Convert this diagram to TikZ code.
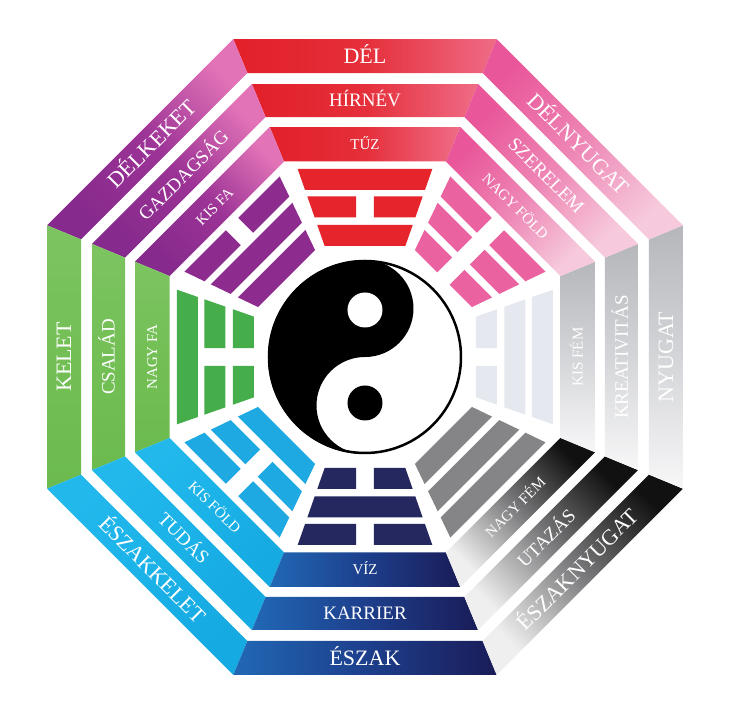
\documentclass[tikz,border=0pt]{standalone}
\usepackage{fontspec}
\setmainfont{Liberation Serif}
\newcommand\bgBand[6]{%
 \pgfmathsetmacro\bgRo{1.0823922*#2}%
 \pgfmathsetmacro\bgRi{1.0823922*#3}%
 \pgfmathsetmacro\bgSa{90+#1}%
 \pgfmathsetmacro\bgTa{#1+67.5}%
 \pgfmathsetmacro\bgTb{#1+112.5}%
 \shade[top color=#4,bottom color=#6,middle color=#5,shading angle=\bgSa]
   (\bgTa:\bgRo) -- (\bgTb:\bgRo) -- (\bgTb:\bgRi) -- (\bgTa:\bgRi) -- cycle;}
\newcommand\bgSector[4]{%
 \bgBand{#1}{318}{284}{#2}{#3}{#4}%
 \bgBand{#1}{273}{240}{#2}{#3}{#4}%
 \bgBand{#1}{230}{195.5}{#2}{#3}{#4}}
\newcommand\bgBar[5]{% rot, a_in, a_out, solid(1)/broken(0), colour
 \pgfmathsetmacro\bgHi{0.35*#2+1.5}%
 \pgfmathsetmacro\bgHo{0.35*#3+1.5}%
 \begin{scope}[rotate=#1]
 \ifnum#4=1
  \fill[#5] (-\bgHo,#3) -- (\bgHo,#3) -- (\bgHi,#2) -- (-\bgHi,#2) -- cycle;
 \else
  \fill[#5] (-\bgHo,#3) -- (-8.8,#3) -- (-8.8,#2) -- (-\bgHi,#2) -- cycle;
  \fill[#5] (8.8,#3) -- (\bgHo,#3) -- (\bgHi,#2) -- (8.8,#2) -- cycle;
 \fi
 \end{scope}}
\newcommand\bgTrigram[5]{% rot, colour, outer, middle, inner
 \bgBar{#1}{167}{188}{#3}{#2}%
 \bgBar{#1}{139.5}{160.5}{#4}{#2}%
 \bgBar{#1}{111}{132}{#5}{#2}}
\definecolor{sA}{HTML}{E2202A}\definecolor{sM}{HTML}{E52F3A}\definecolor{sB}{HTML}{EF6C86}
\definecolor{seA}{HTML}{872A8D}\definecolor{seM}{HTML}{9C3396}\definecolor{seB}{HTML}{E273B7}
\definecolor{eA}{HTML}{6CBB4E}\definecolor{eM}{HTML}{73BF55}\definecolor{eB}{HTML}{7CC461}
\definecolor{neA}{HTML}{15AAE2}\definecolor{neM}{HTML}{1BB2E8}\definecolor{neB}{HTML}{22B8EC}
\definecolor{nA}{HTML}{1A1C58}\definecolor{nM}{HTML}{1D3F8C}\definecolor{nB}{HTML}{2168B5}
\definecolor{nwA}{HTML}{111111}\definecolor{nwM}{HTML}{7A7A7C}\definecolor{nwB}{HTML}{EFEFEF}
\definecolor{wA}{HTML}{B6B7BB}\definecolor{wM}{HTML}{D4D5D8}\definecolor{wB}{HTML}{F7F7F8}
\definecolor{swA}{HTML}{E9579A}\definecolor{swM}{HTML}{EE86B5}\definecolor{swB}{HTML}{F6C9DC}
\definecolor{sT}{HTML}{E5242B}\definecolor{seT}{HTML}{8D2B8E}\definecolor{eT}{HTML}{45AD4A}
\definecolor{neT}{HTML}{1FA9E2}\definecolor{nT}{HTML}{25275F}\definecolor{nwT}{HTML}{858587}
\definecolor{wT}{HTML}{E5E8EF}\definecolor{swT}{HTML}{EA62A0}
\tikzset{
 lab/.style={text=white, inner sep=0pt, text depth=0pt},
 labA/.style={lab, font=\fontsize{22}{22}\selectfont, text height=14.5pt},
 labB/.style={lab, font=\fontsize{19}{19}\selectfont, text height=12.5pt},
 labC/.style={lab, font=\fontsize{15}{15}\selectfont, text height=9.9pt},
}
\begin{document}
\begin{tikzpicture}[x=1pt,y=1pt]
\fill[white] (-365,-354) rectangle (364,357);
\useasboundingbox (-365,-354) rectangle (364,357);
% ring bands
\bgSector{0}{sA}{sM}{sB}
\bgSector{45}{seA}{seM}{seB}
\bgSector{90}{eA}{eM}{eB}
\bgSector{135}{neA}{neM}{neB}
\bgSector{180}{nA}{nM}{nB}
\bgSector{225}{nwA}{nwM}{nwB}
\bgSector{270}{wA}{wM}{wB}
\bgSector{315}{swA}{swM}{swB}
% trigrams (outer = bottom line)
\bgTrigram{0}{sT}{1}{0}{1}
\bgTrigram{45}{seT}{0}{1}{1}
\bgTrigram{90}{eT}{1}{0}{0}
\bgTrigram{135}{neT}{0}{0}{1}
\bgTrigram{180}{nT}{0}{1}{0}
\bgTrigram{225}{nwT}{1}{1}{1}
\bgTrigram{270}{wT}{1}{1}{0}
\bgTrigram{315}{swT}{0}{0}{0}
% yin-yang
\fill[white] (0,0) circle (97);
\fill[black] (0,97) arc[start angle=90,end angle=270,radius=97]
  arc[start angle=270,end angle=90,radius=48.5]
  arc[start angle=-90,end angle=90,radius=48.5] -- cycle;
\fill[white] (0,47) circle (17.5);
\fill[black] (0,-46) circle (17.5);
\draw[black, line width=2.5pt] (0,0) circle (96);
% labels
\node[labA] (s1) at (90:301) {DÉL};
\node[labB] (s2) at (90:256.5) {HÍRNÉV};
\node[labC] (s3) at (90:212.7) {TŰZ};
\node[labA, rotate=45] (se1) at (135:301) {DÉLKEKET};
\node[labB, rotate=45] (se2) at (135:256.5) {GAZDAGSÁG};
\node[labC, rotate=45] (se3) at (135:212.7) {KIS FA};
\node[labA, rotate=90] (e1) at (180:301) {KELET};
\node[labB, rotate=90] (e2) at (180:256.5) {CSALÁD};
\node[labC, rotate=90] (e3) at (180:212.7) {NAGY FA};
\node[labA, rotate=-45] (ne1) at (225:301) {ÉSZAKKELET};
\node[labB, rotate=-45] (ne2) at (225:256.5) {TUDÁS};
\node[labC, rotate=-45] (ne3) at (225:212.7) {KIS FÖLD};
\node[labA] (n1) at (270:301) {ÉSZAK};
\node[labB] (n2) at (270:256.5) {KARRIER};
\node[labC] (n3) at (270:212.7) {VÍZ};
\node[labA, rotate=45] (nw1) at (315:301) {ÉSZAKNYUGAT};
\node[labB, rotate=45] (nw2) at (315:256.5) {UTAZÁS};
\node[labC, rotate=45] (nw3) at (315:212.7) {NAGY FÉM};
\node[labA, rotate=90] (w1) at (0:301) {NYUGAT};
\node[labB, rotate=90] (w2) at (0:256.5) {KREATIVITÁS};
\node[labC, rotate=90] (w3) at (0:212.7) {KIS FÉM};
\node[labA, rotate=-45] (sw1) at (45:301) {DÉLNYUGAT};
\node[labB, rotate=-45] (sw2) at (45:256.5) {SZERELEM};
\node[labC, rotate=-45] (sw3) at (45:212.7) {NAGY FÖLD};
\end{tikzpicture}
\end{document}
